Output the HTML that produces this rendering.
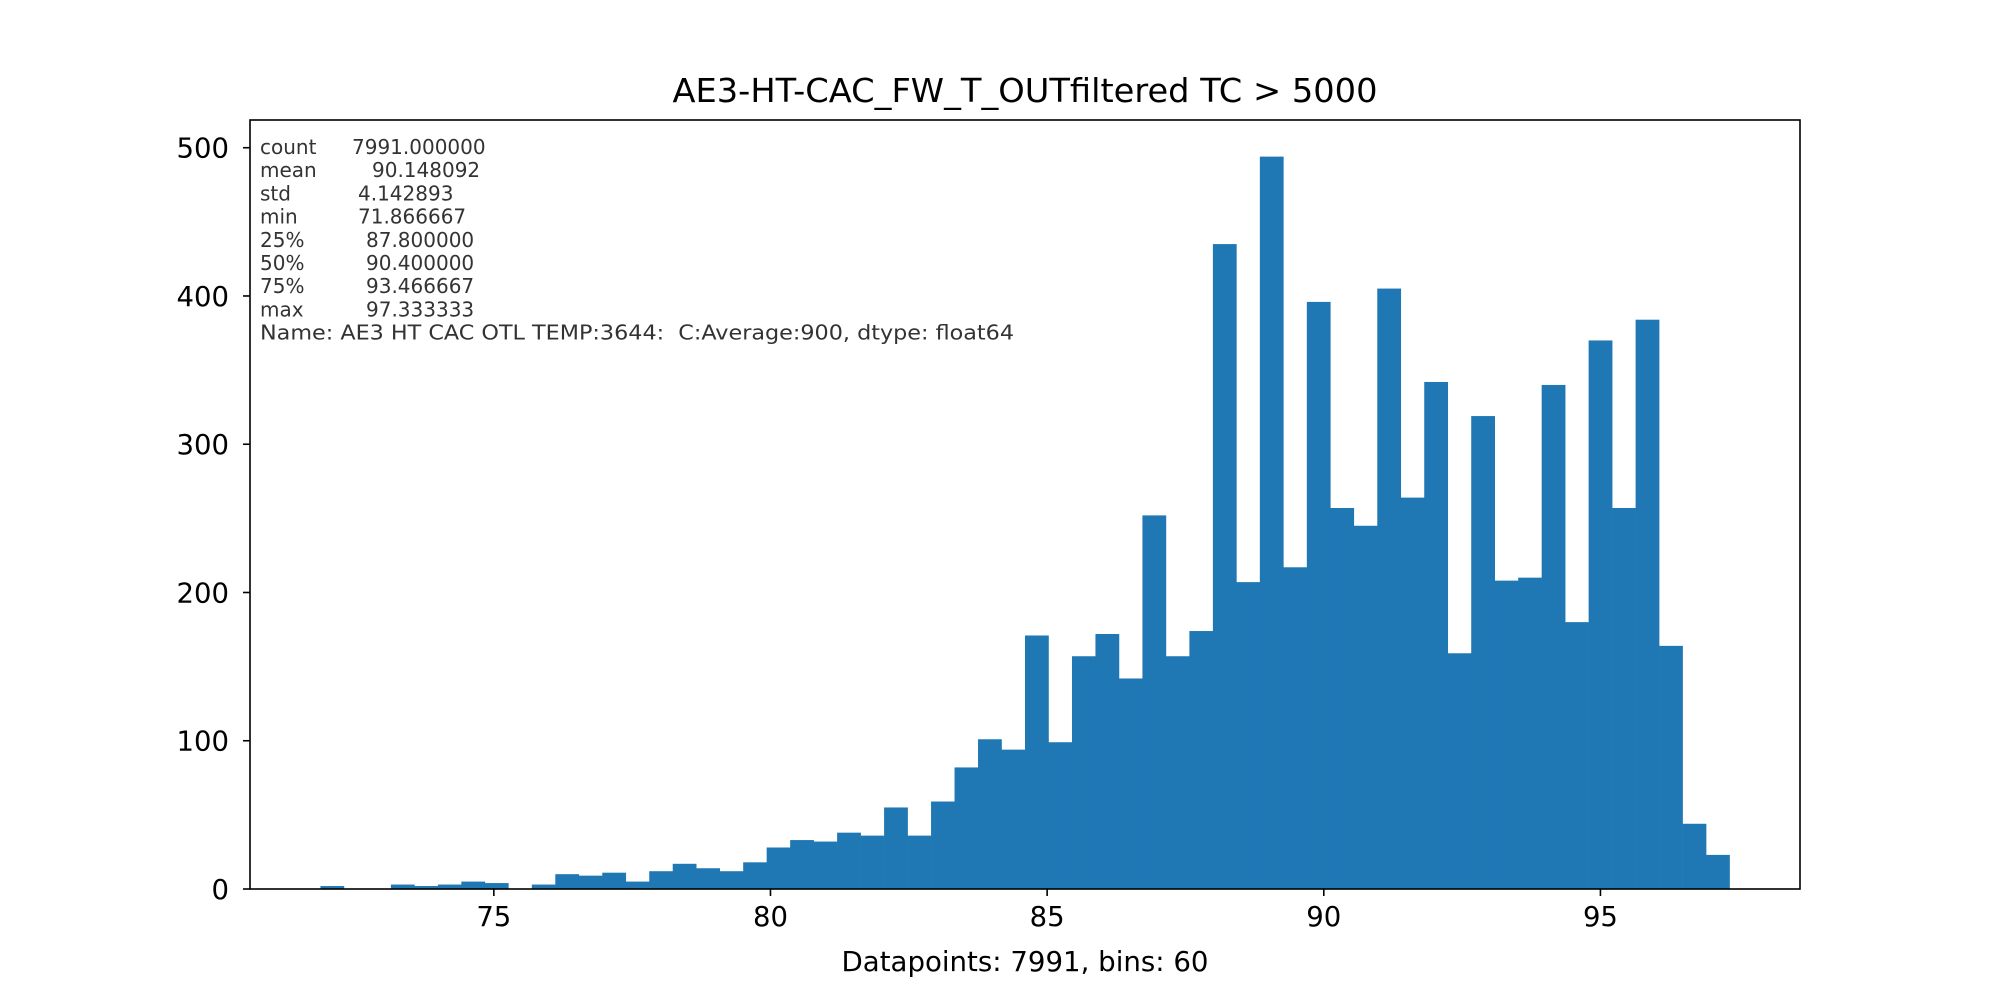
<!DOCTYPE html>
<html><head><meta charset="utf-8"><style>
html,body{margin:0;padding:0;background:#fff;}
svg{display:block;font-family:"DejaVu Sans","Liberation Sans",sans-serif;}
.pre{white-space:pre;}
</style></head><body>
<svg id="chart" width="2000" height="1000" xmlns="http://www.w3.org/2000/svg">
<rect width="2000" height="1000" fill="#fff"/>
<text x="1025" y="102" font-size="33" text-anchor="middle" textLength="705" lengthAdjust="spacingAndGlyphs">AE3-HT-CAC_FW_T_OUTfiltered TC &gt; 5000</text>
<g id="bars"></g>
<g id="stats" font-size="20" fill="#333"></g>
<rect x="250" y="120" width="1550" height="769" fill="none" stroke="#000" stroke-width="1.6"/>
<g id="xticks"></g>
<g id="yticks"></g>
<text x="1025" y="971" font-size="27.5" text-anchor="middle" textLength="367" lengthAdjust="spacingAndGlyphs">Datapoints: 7991, bins: 60</text>
</svg>
<script>
const binStart = 71.866667;
const binEnd = 97.333333;
const counts = [2,0,0,3,2,3,5,4,0,3,10,9,11,5,12,17,14,12,18,28,33,32,38,36,55,36,59,82,101,94,171,99,157,172,142,252,157,174,435,207,494,217,396,257,245,405,264,342,159,319,208,210,340,180,370,257,384,164,44,23];
const xTicks = [75,80,85,90,95];
const yTicks = [0,100,200,300,400,500];
const statLabels = ["count","mean","std","min","25%","50%","75%","max"];
const statValues = ["7991.000000","90.148092","4.142893","71.866667","87.800000","90.400000","93.466667","97.333333"];
const NS="http://www.w3.org/2000/svg";
const L=250,R=1800,T=120,B=889;
const span=binEnd-binStart, pad=span*0.05;
const xmin=binStart-pad, xmax=binEnd+pad;
const ymax=Math.max(...counts)*1.05;
const X=v=>L+(v-xmin)/(xmax-xmin)*(R-L);
const Y=v=>B-v/ymax*(B-T);
function mk(t,a,p){const e=document.createElementNS(NS,t);for(const k in a)e.setAttribute(k,a[k]);p.appendChild(e);return e;}
const bw=span/counts.length;
const gb=document.getElementById('bars');
counts.forEach((c,i)=>{
  const x0=X(binStart+i*bw),x1=X(binStart+(i+1)*bw);
  const r=mk('rect',{x:x0,y:Y(c),width:x1-x0+0.3,height:B-Y(c),fill:'#1f77b4'},gb);
  
  
});
const gx=document.getElementById('xticks');
xTicks.forEach(v=>{
  const x=X(v);
  const l=mk('line',{x1:x,x2:x,y1:B,y2:B+7,stroke:'#000','stroke-width':1.6},gx);
  
  
  const t=mk('text',{x:x,y:B+37,'font-size':27.5,'text-anchor':'middle'},gx);
  t.textContent=v;
  
  
});
const gy=document.getElementById('yticks');
yTicks.forEach(v=>{
  const y=Y(v);
  const l=mk('line',{x1:L-7,x2:L,y1:y,y2:y,stroke:'#000','stroke-width':1.6},gy);
  
  
  const t=mk('text',{x:L-21,y:y+10,'font-size':27.5,'text-anchor':'end'},gy);
  t.textContent=v;
  
  
});
const gs=document.getElementById('stats');
const valX=[352,372,358,358,366,366,366,366];
statLabels.forEach((s,i)=>{
  const y=154+i*23.2;
  const a=mk('text',{x:260,y:y},gs);a.textContent=s;
  
  
  const b=mk('text',{x:valX[i],y:y},gs);b.textContent=statValues[i];
  
  
});
const nm=mk('text',{x:260,y:154+8*23.2,textLength:754,lengthAdjust:'spacingAndGlyphs','class':'pre'},gs);
nm.textContent="Name: AE3 HT CAC OTL TEMP:3644:  C:Average:900, dtype: float64";


</script>
</body></html>
